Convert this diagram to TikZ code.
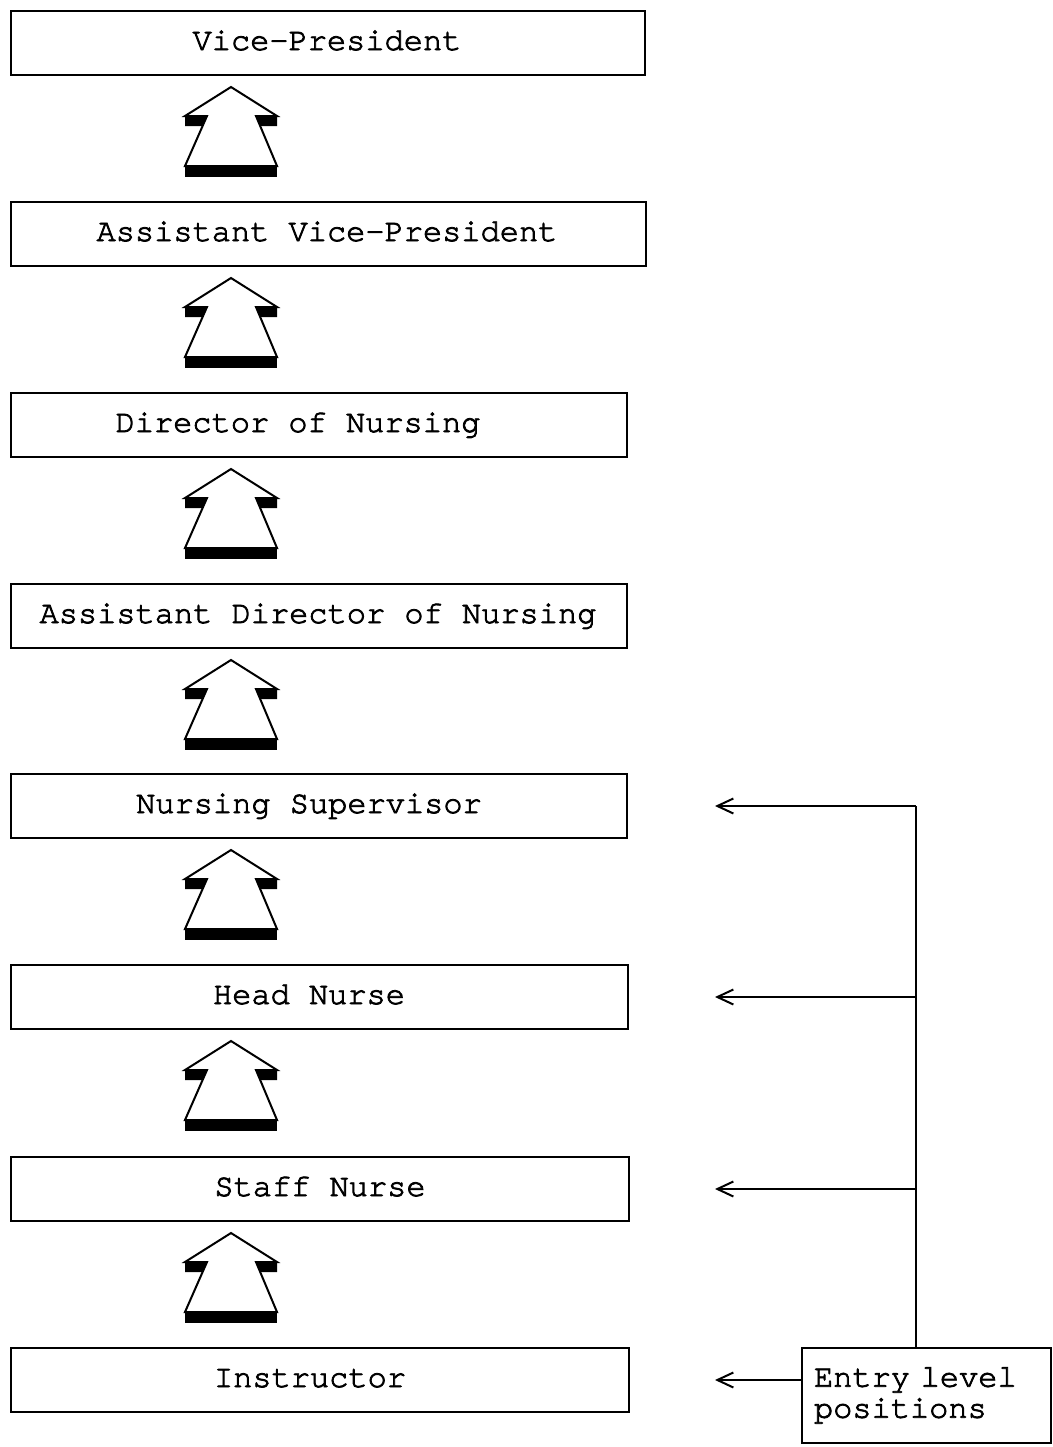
\documentclass[tikz,border=0pt]{standalone}
\usepackage{fontspec}
\newfontfamily\courier[FakeBold=2.5, Ligatures={NoCommon}, WordSpace={1,0,0}]{TeX Gyre Cursor}
\usetikzlibrary{arrows.meta,positioning}
\tikzset{
    rung/.style={draw, line width=1pt, anchor=north west, minimum height=32pt, inner sep=0pt},
    rungtext/.style={font=\courier\fontsize{16}{16}\selectfont, inner sep=0pt, anchor=base},
    entrybox/.style={draw, line width=1pt, anchor=north west, text width=112.5pt, inner xsep=6pt, minimum height=47.5pt, align=left, font=\courier\fontsize{16}{15.5}\selectfont},
    feed/.style={draw, line width=1.2pt, -{Straight Barb[length=8pt,width=7.5pt,line width=1pt]}},
    climb/.pic={
        \fill (-46,29) -- (-24,29) -- (-28.4,39) -- (-46,39) -- cycle;
        \fill (46,29) -- (25,29) -- (29.4,39) -- (46,39) -- cycle;
        \fill (-46,79) rectangle (46,90);
        \draw[line width=1pt, line join=miter] (0,0) -- (46,29) -- (25,29) -- (46,79) -- (-46,79) -- (-24,29) -- (-46,29) -- cycle;
    }
}

\begin{document}
\begin{tikzpicture}[x=0.5pt, y=-0.5pt]
    \useasboundingbox (0,0) rectangle (1053,1447);

    % ladder of positions
    \foreach \n/\y/\r/\tx/\txt in {vp/10/644/327/Vice-President, avp/201/645/327/Assistant Vice-President, don/392/626/298/Director of Nursing, adon/583/626/318/Assistant Director of Nursing, ns/773/626/309/Nursing Supervisor, hn/964/627/309/Head Nurse, sn/1156/628/320/Staff Nurse, ins/1347/628/310/Instructor}
    {
        \node[rung, minimum width={(\r-10)*0.5pt}] (\n) at (10,\y) {};
        \node[rungtext] (\n-text) at (\tx,\y+40) {\txt};
    }

    \foreach \t in {87,278,469,660,850,1041,1233} \pic at (231,\t) {climb};

    % entry level
    \node[entrybox] (entry) at (801,1347) {Entry level\\positions};
    \coordinate (trunk) at (916,0);
    \coordinate (tips) at (715,0);
    \draw[line width=1.2pt] (entry.north -| trunk) -- (trunk |- ns);
    \foreach \n in {ns,hn,sn} \draw[feed] (trunk |- \n) -- (tips |- \n);
    \draw[feed] (entry.west |- ins) -- (tips |- ins);
\end{tikzpicture}
\end{document}
